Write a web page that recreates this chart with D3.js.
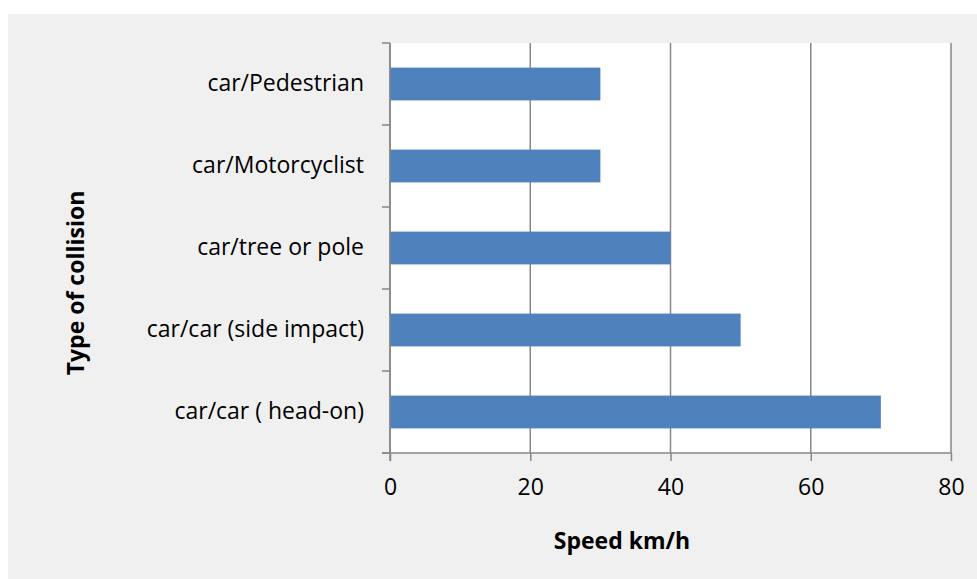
<!DOCTYPE html>
<html>
<head>
  <meta charset="utf-8">
  <script src="https://d3js.org/d3.v7.min.js"></script>
  <style>
    body { margin: 0; background: #fff; }
    svg text { font-family: "Open Sans", sans-serif; fill: #000; }
    .axis path { display: none; }
    .tick text { font-size: 23px; }
    .axis-label { font-size: 23px; font-weight: bold; }
  </style>
</head>
<body>
  <svg width="977" height="579"></svg>
  <script>
    const categories = ['car/car ( head-on)', 'car/car (side impact)', 'car/tree or pole', 'car/Motorcyclist', 'car/Pedestrian'];
    const speeds = [70, 50, 40, 30, 30];
    const xTicks = [0, 20, 40, 60, 80];

    const margin = { left: 390, right: 26, top: 43, bottom: 126 };
    const svg = d3.select('svg');
    const width = +svg.attr('width');
    const height = +svg.attr('height');
    const innerWidth = width - margin.left - margin.right;
    const innerHeight = height - margin.top - margin.bottom;

    // grey chart area + white plot area
    svg.append('rect')
      .attr('x', 8).attr('y', 14)
      .attr('width', width - 8).attr('height', height - 14)
      .attr('fill', '#f0f0f0');

    const g = svg.append('g')
      .attr('transform', `translate(${margin.left},${margin.top})`);

    g.append('rect')
      .attr('width', innerWidth).attr('height', innerHeight)
      .attr('fill', '#fff');

    const xScale = d3.scaleLinear().domain([0, 80]).range([0, innerWidth]);
    const yScale = d3.scaleBand()
      .domain(categories.slice().reverse())
      .range([0, innerHeight])
      .paddingInner(0.6)
      .paddingOuter(0.3);

    // vertical gridlines
    g.selectAll('.grid').data(xTicks)
      .enter().append('line')
      .attr('class', 'grid')
      .attr('x1', d => xScale(d)).attr('x2', d => xScale(d))
      .attr('y1', 0).attr('y2', innerHeight)
      .attr('stroke', '#878787')
      .attr('stroke-width', 1.5);

    g.selectAll('.bar').data(speeds)
      .enter().append('rect')
      .attr('class', 'bar')
      .attr('x', 0)
      .attr('y', (d, i) => yScale(categories[i]))
      .attr('width', d => xScale(d))
      .attr('height', yScale.bandwidth())
      .attr('fill', '#4f81bd');

    // y axis line and boundary ticks
    const yEdges = d3.range(categories.length + 1).map(i => i * yScale.step());
    g.append('line')
      .attr('x1', 0).attr('x2', 0).attr('y1', 0).attr('y2', innerHeight + 8)
      .attr('stroke', '#878787').attr('stroke-width', 1.5);
    g.selectAll('.ytick').data(yEdges)
      .enter().append('line')
      .attr('x1', -8).attr('x2', 0)
      .attr('y1', d => d).attr('y2', d => d)
      .attr('stroke', '#878787').attr('stroke-width', 1.5);

    // x axis line
    g.append('line')
      .attr('x1', -8).attr('x2', innerWidth)
      .attr('y1', innerHeight).attr('y2', innerHeight)
      .attr('stroke', '#878787').attr('stroke-width', 1.5);

    const xAxis = d3.axisBottom(xScale)
      .tickValues(xTicks)
      .tickSize(8)
      .tickPadding(18);
    const xAxisG = g.append('g')
      .attr('class', 'axis')
      .attr('transform', `translate(0,${innerHeight})`)
      .call(xAxis);
    xAxisG.selectAll('.tick line').attr('stroke', '#878787').attr('stroke-width', 1.5);

    const yAxis = d3.axisLeft(yScale).tickSize(0).tickPadding(26);
    const yAxisG = g.append('g')
      .attr('class', 'axis')
      .call(yAxis);

    svg.append('text')
      .attr('class', 'axis-label')
      .attr('x', 622).attr('y', 549)
      .attr('text-anchor', 'middle')
      .text('Speed km/h');

    svg.append('text')
      .attr('class', 'axis-label')
      .attr('transform', 'translate(84,283) rotate(-90)')
      .attr('text-anchor', 'middle')
      .text('Type of collision');
  </script>
</body>
</html>
